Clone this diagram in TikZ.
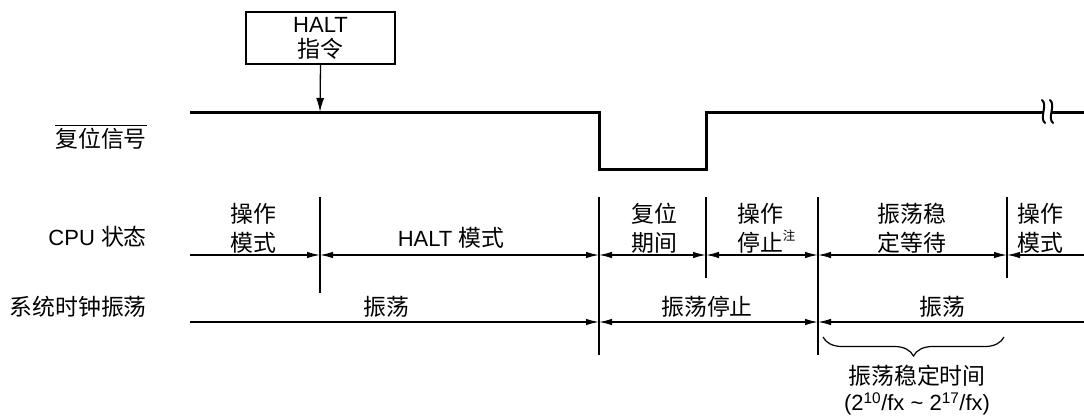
\documentclass[tikz,border=0pt]{standalone}
\usepackage{fontspec}
\setmainfont{Liberation Sans}
\newfontfamily\zh{Noto Sans CJK SC}[Scale=1.04]
\usetikzlibrary{arrows.meta,decorations.pathreplacing}
\begin{document}
\begin{tikzpicture}[x=1pt,y=-1pt,
  lbl/.style={font=\fontsize{22}{29}\selectfont, inner sep=0pt, align=center},
  sig/.style={line width=3pt},
  tk/.style={line width=1.3pt},
  ah/.tip={Latex[length=13pt,width=6.5pt]},
  both/.style={line width=1.3pt, {ah}-{ah}},
  toR/.style={line width=1.3pt, -{ah}},
  toL/.style={line width=1.3pt, {ah}-},
  brk/.style={line width=2pt, line cap=round}
]
\useasboundingbox (0,0) rectangle (1084,415);

% key coordinates
\coordinate (s0) at (190,112);
\coordinate (h)  at (320,112);
\coordinate (d1) at (599,112);
\coordinate (d2) at (599,169);
\coordinate (u1) at (706,169);
\coordinate (u2) at (706,112);
\coordinate (b1) at (1044,112);
\coordinate (b2) at (1052,112);
\coordinate (s9) at (1084,112);

% HALT box and arrow
\node[draw, line width=1.1pt, minimum width=149pt, minimum height=52pt, inner sep=0pt,
      align=center, font=\fontsize{22}{25}\selectfont] (halt) at (320.5,38) {HALT\\{\zh 指令}};
\draw[line width=1.3pt, -{Latex[length=14pt,width=8pt]}] (halt.south) -- (h);

% reset signal
\draw[sig, line join=miter] (s0) -- (d1) -- (d2) -- (u1) -- (u2) -- (b1);
\draw[sig] (b2) -- (s9);
\draw[brk] (1042,100) .. controls (1048,105) and (1039,118) .. (1045,123);
\draw[brk] (1050,100) .. controls (1056,105) and (1047,118) .. (1053,123);

% left labels
\node[lbl, anchor=east] (rst) at (147,139) {\zh 复位信号};
\draw[line width=1.2pt] ([yshift=3pt]rst.north west) -- ([yshift=3pt]rst.north east);
\node[lbl, anchor=east] (cpu) at (147,237) {CPU {\zh 状态}};
\node[lbl, anchor=east] (osc) at (147,307) {\zh 系统时钟振荡};

% vertical markers
\coordinate (v1t) at (320,197); \coordinate (v1b) at (320,293);
\coordinate (v2t) at (599,197); \coordinate (v2b) at (599,355);
\coordinate (v3t) at (706,197); \coordinate (v3b) at (706,278);
\coordinate (v4t) at (818,197); \coordinate (v4b) at (818,355);
\coordinate (v5t) at (1007,197); \coordinate (v5b) at (1007,278);
\foreach \v in {1,...,5} {\draw[tk] (v\v t) -- (v\v b);}

% CPU state row
\coordinate (c0) at (190,255);
\coordinate (c1) at (320,255);
\coordinate (c2) at (599,255);
\coordinate (c3) at (706,255);
\coordinate (c4) at (818,255);
\coordinate (c5) at (1007,255);
\coordinate (c6) at (1084,255);
\draw[toR] (c0) -- (c1);
\draw[both] (c1) -- (c2);
\draw[both] (c2) -- (c3);
\draw[both] (c3) -- (c4);
\draw[both] (c4) -- (c5);
\draw[toL] (c5) -- (c6);

\node[lbl] (m1) at (253,228) {\zh 操作\\\zh 模式};
\node[lbl] (m2) at (451,238) {HALT {\zh 模式}};
\node[lbl] (m3) at (654,228) {\zh 复位\\\zh 期间};
\node[lbl] (m4) at (760,228) {\zh 操作\\\zh 停止\rlap{\raisebox{0.45em}{\fontsize{12}{12}\selectfont 注}}};
\node[lbl] (m5) at (912,228) {\zh 振荡稳\\\zh 定等待};
\node[lbl] (m6) at (1040,228) {\zh 操作\\\zh 模式};

% oscillation row
\coordinate (o0) at (190,322);
\coordinate (o1) at (599,322);
\coordinate (o2) at (818,322);
\coordinate (o3) at (1084,322);
\draw[toR] (o0) -- (o1);
\draw[both] (o1) -- (o2);
\draw[toL] (o2) -- (o3);

\node[lbl] (n1) at (386,307) {\zh 振荡};
\node[lbl] (n2) at (707,307) {\zh 振荡停止};
\node[lbl] (n3) at (942,307) {\zh 振荡};

% brace
\coordinate (br1) at (823,337);
\coordinate (br2) at (1004,337);
\draw[line width=1.2pt, decorate, decoration={brace, mirror, amplitude=19pt}] (br1) -- (br2);

\node[lbl] (t1) at (917,376) {\zh 振荡稳定时间};
\node[lbl] (t2) at (917,404) {(2\textsuperscript{10}/fx \textasciitilde{} 2\textsuperscript{17}/fx)};
\end{tikzpicture}
\end{document}
